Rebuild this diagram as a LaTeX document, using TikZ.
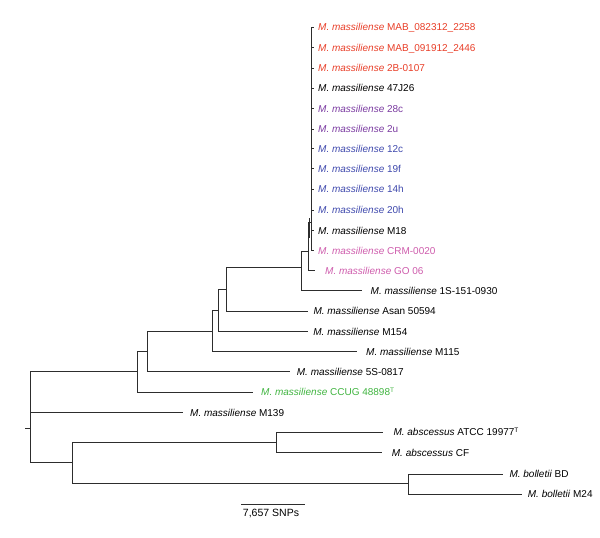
\documentclass[tikz,border=0pt]{standalone}
\usepackage{fontspec}
\setmainfont{Liberation Sans}
\definecolor{cred}{RGB}{232,62,40}
\definecolor{cpurp}{RGB}{122,58,160}
\definecolor{cblue}{RGB}{62,72,172}
\definecolor{cpink}{RGB}{206,92,172}
\definecolor{cgreen}{RGB}{64,180,64}
\definecolor{cline}{RGB}{45,45,45}
\newcommand{\mmass}{\textit{M. massiliense}}
\newcommand{\supT}{\textsuperscript{\fontsize{6.5}{6.5}\selectfont T}}
\begin{document}
\begin{tikzpicture}[x=1pt,y=-1pt,
  br/.style={draw=cline, line width=0.95pt},
  lbl/.style={anchor=west, inner sep=0pt, font=\fontsize{10}{12}\selectfont, text height=7.2pt, text depth=0pt}]
\useasboundingbox (0,0) rectangle (600,538);
% internal nodes
\coordinate (R) at (30.3,428);
\coordinate (Rs) at (25,428);
\coordinate (A) at (137,371.7);
\coordinate (B) at (147,351.3);
\coordinate (C) at (212.3,331.3);
\coordinate (D) at (218.3,310);
\coordinate (E) at (226,289);
\coordinate (F) at (301.7,267.3);
\coordinate (H) at (308.5,251);
\coordinate (K) at (311.5,222);
\coordinate (G) at (72.3,462.7);
\coordinate (I) at (276.7,442.5);
\coordinate (J) at (408.3,483.5);
% tips
\coordinate (t1) at (313.5,27.3);
\coordinate (t2) at (313.5,47.5);
\coordinate (t3) at (313.5,68);
\coordinate (t4) at (313.5,88.3);
\coordinate (t5) at (313.5,108.7);
\coordinate (t6) at (313.5,129.3);
\coordinate (t7) at (313.5,148.7);
\coordinate (t8) at (313.5,168.5);
\coordinate (t9) at (313.5,189);
\coordinate (t10) at (313.5,210);
\coordinate (t11) at (313.5,230.7);
\coordinate (t12) at (313.5,250.7);
\coordinate (tGO) at (315,270.7);
\coordinate (t1S) at (362,290.5);
\coordinate (tAsan) at (307.5,311.3);
\coordinate (tM154) at (307.7,331.5);
\coordinate (tM115) at (357,351.7);
\coordinate (t5S) at (290,371.7);
\coordinate (tCCUG) at (253,392.3);
\coordinate (t139) at (183.3,412.7);
\coordinate (tATCC) at (383,432.3);
\coordinate (tCF) at (381.7,452.7);
\coordinate (tBD) at (502.7,474);
\coordinate (tM24) at (521.7,494);
% branches
\draw[br] (Rs) -- (R);
\draw[br] (R) |- (A);
\draw[br] (R) |- (t139);
\draw[br] (R) |- (G);
\draw[br] (A) |- (B);
\draw[br] (A) |- (tCCUG);
\draw[br] (B) |- (C);
\draw[br] (B) |- (t5S);
\draw[br] (C) |- (D);
\draw[br] (C) |- (tM115);
\draw[br] (D) |- (E);
\draw[br] (D) |- (tM154);
\draw[br] (E) |- (F);
\draw[br] (E) |- (tAsan);
\draw[br] (F) |- (H);
\draw[br] (F) |- (t1S);
\draw[br] (H) |- (K);
\draw[br] (H) |- (tGO);
\foreach \t in {t1,t2,t3,t4,t5,t6,t7,t8,t9,t10,t11,t12}{\draw[br] (K) |- (\t);}
\draw[br, line width=1.2pt] (311.5,27.3) -- (311.5,250.7);
\draw[br, line width=1.8pt] (311.5,176) -- (311.5,208);
\draw[br, line width=1.6pt] (309.6,218) -- (309.6,238);
\draw[br] (G) |- (I);
\draw[br] (G) |- (J);
\draw[br] (I) |- (tATCC);
\draw[br] (I) |- (tCF);
\draw[br] (J) |- (tBD);
\draw[br] (J) |- (tM24);
% labels
\node[lbl, text=cred] (l1) at (318,27.3) {\mmass{} MAB\_082312\_2258};
\node[lbl, text=cred] (l2) at (318,47.5) {\mmass{} MAB\_091912\_2446};
\node[lbl, text=cred] (l3) at (318,68) {\mmass{} 2B-0107};
\node[lbl] (l4) at (318,88.3) {\mmass{} 47J26};
\node[lbl, text=cpurp] (l5) at (318,108.7) {\mmass{} 28c};
\node[lbl, text=cpurp] (l6) at (318,129.3) {\mmass{} 2u};
\node[lbl, text=cblue] (l7) at (318,148.7) {\mmass{} 12c};
\node[lbl, text=cblue] (l8) at (318,168.5) {\mmass{} 19f};
\node[lbl, text=cblue] (l9) at (318,189) {\mmass{} 14h};
\node[lbl, text=cblue] (l10) at (318,210) {\mmass{} 20h};
\node[lbl] (l11) at (318,230.7) {\mmass{} M18};
\node[lbl, text=cpink] (l12) at (318,250.7) {\mmass{} CRM-0020};
\node[lbl, text=cpink] (lGO) at (325,270.7) {\mmass{} GO 06};
\node[lbl] (l1S) at (370.5,290.5) {\mmass{} 1S-151-0930};
\node[lbl] (lAsan) at (313.3,311.3) {\mmass{} Asan 50594};
\node[lbl] (lM154) at (313.2,331.5) {\mmass{} M154};
\node[lbl] (lM115) at (366,351.7) {\mmass{} M115};
\node[lbl] (l5S) at (296.7,371.7) {\mmass{} 5S-0817};
\node[lbl, text=cgreen] (lCCUG) at (261,392.3) {\mmass{} CCUG 48898\supT};
\node[lbl] (l139) at (190,412.7) {\mmass{} M139};
\node[lbl] (lATCC) at (393.3,432.3) {\textit{M. abscessus} ATCC 19977\supT};
\node[lbl] (lCF) at (391.7,452.7) {\textit{M. abscessus} CF};
\node[lbl] (lBD) at (509.3,474) {\textit{M. bolletii} BD};
\node[lbl] (lM24) at (527.7,494) {\textit{M. bolletii} M24};
% scale bar
\coordinate (s1) at (241,504.3);
\coordinate (s2) at (305,504.3);
\draw[br] (s1) -- (s2);
\node[font=\fontsize{10.5}{12}\selectfont, inner sep=0pt, text height=7.6pt, text depth=0pt] (sl) at (271,513) {7,657 SNPs};
\end{tikzpicture}
\end{document}
